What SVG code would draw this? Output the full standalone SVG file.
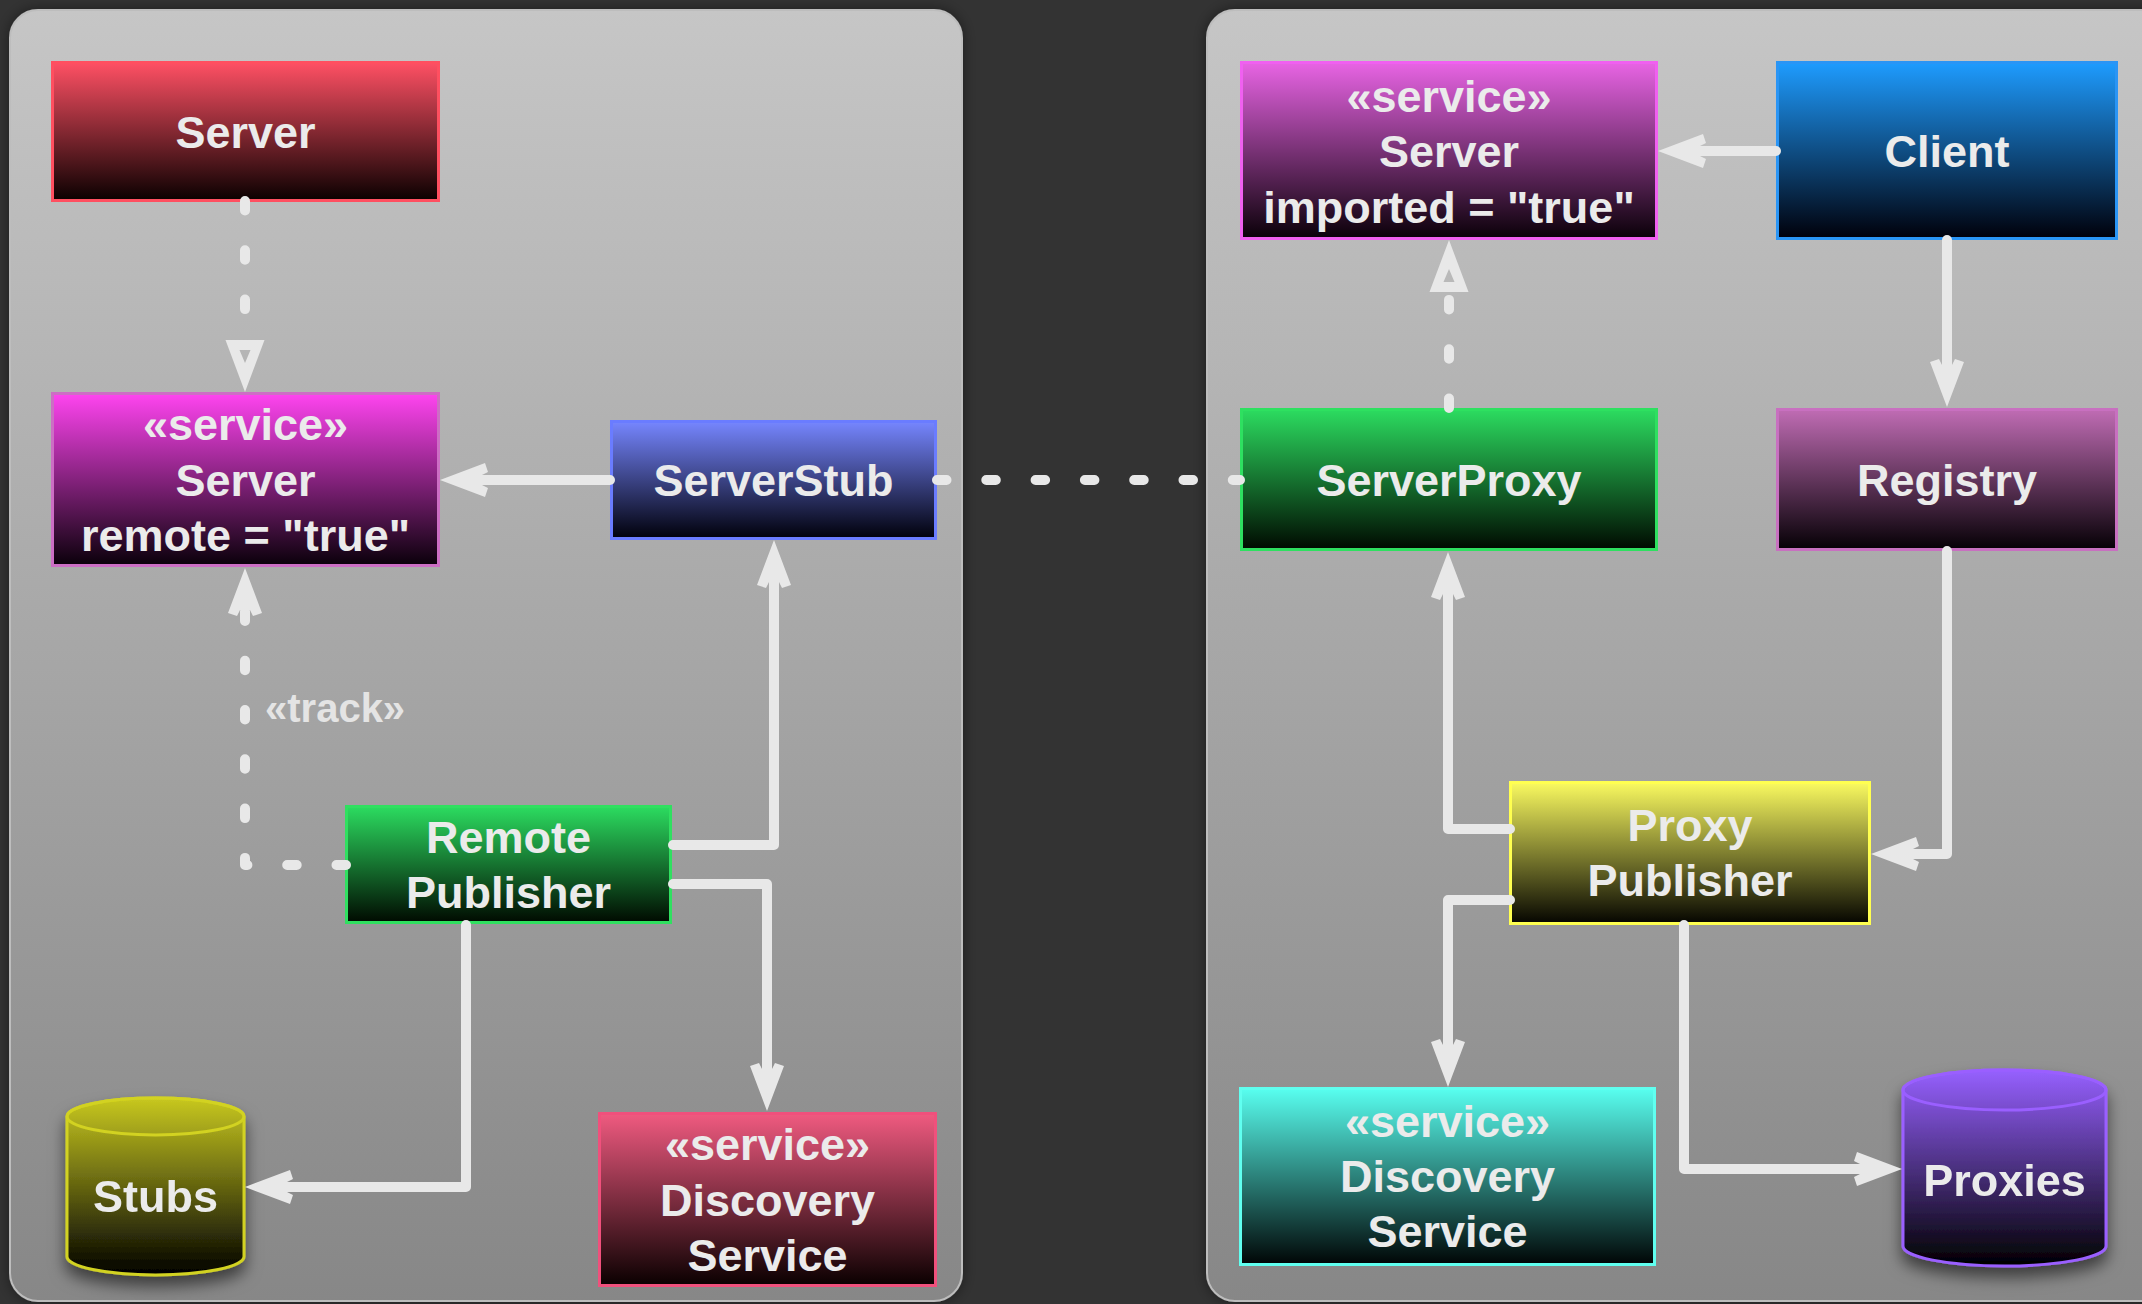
<svg xmlns="http://www.w3.org/2000/svg" width="2142" height="1304" viewBox="0 0 2142 1304">
  <defs>
    <style>
      .panel { stroke: #bdbdbd; stroke-width: 2; fill: url(#gPanel); filter: url(#panelShadow); }
      .box { stroke-width: 3; }
      .lbl { font-family: "Liberation Sans", Arial, Helvetica, sans-serif; font-weight: bold; font-size: 45px; fill: #ebebeb; text-anchor: middle; }
      .note { font-family: "Liberation Sans", Arial, Helvetica, sans-serif; font-weight: bold; font-size: 40px; fill: #e4e4e4; }
      .wire { fill: none; stroke: #e8e8e8; stroke-width: 10; stroke-linecap: round; stroke-linejoin: round; }
      .dash { stroke-dasharray: 9.5 39.8; }
      .arrow { marker-end: url(#arrowHead); }
      .realize { marker-end: url(#hollowTri); }
      .cyl { filter: url(#cylShadow); }
    </style>

    <!-- panel background -->
    <linearGradient id="gPanel" x1="0" y1="0" x2="0" y2="1">
      <stop offset="0" stop-color="#c6c6c6"/>
      <stop offset="1" stop-color="#878787"/>
    </linearGradient>

    <!-- node fills: colour at the top fading to black -->
    <linearGradient id="gRed" x1="0" y1="0" x2="0" y2="1"><stop offset="0" stop-color="#ff5064"/><stop offset="1" stop-color="#0a0000"/></linearGradient>
    <linearGradient id="gMagenta" x1="0" y1="0" x2="0" y2="1"><stop offset="0" stop-color="#ff44f0"/><stop offset="1" stop-color="#0a000a"/></linearGradient>
    <linearGradient id="gBlue" x1="0" y1="0" x2="0" y2="1"><stop offset="0" stop-color="#7686ff"/><stop offset="1" stop-color="#00000a"/></linearGradient>
    <linearGradient id="gGreen" x1="0" y1="0" x2="0" y2="1"><stop offset="0" stop-color="#2cdc60"/><stop offset="1" stop-color="#000a00"/></linearGradient>
    <linearGradient id="gPink" x1="0" y1="0" x2="0" y2="1"><stop offset="0" stop-color="#f05a80"/><stop offset="1" stop-color="#0a0000"/></linearGradient>
    <linearGradient id="gOlive" x1="0" y1="0" x2="0" y2="1"><stop offset="0" stop-color="#c8c820"/><stop offset="1" stop-color="#000000"/></linearGradient>
    <linearGradient id="gOrchid" x1="0" y1="0" x2="0" y2="1"><stop offset="0" stop-color="#e864e4"/><stop offset="1" stop-color="#0a0008"/></linearGradient>
    <linearGradient id="gSky" x1="0" y1="0" x2="0" y2="1"><stop offset="0" stop-color="#1e9cff"/><stop offset="1" stop-color="#00000a"/></linearGradient>
    <linearGradient id="gPlum" x1="0" y1="0" x2="0" y2="1"><stop offset="0" stop-color="#c06cb4"/><stop offset="1" stop-color="#050005"/></linearGradient>
    <linearGradient id="gYellow" x1="0" y1="0" x2="0" y2="1"><stop offset="0" stop-color="#fafa60"/><stop offset="1" stop-color="#050500"/></linearGradient>
    <linearGradient id="gCyan" x1="0" y1="0" x2="0" y2="1"><stop offset="0" stop-color="#58fff0"/><stop offset="1" stop-color="#000505"/></linearGradient>
    <linearGradient id="gViolet" x1="0" y1="0" x2="0" y2="1"><stop offset="0" stop-color="#9660ff"/><stop offset="1" stop-color="#000000"/></linearGradient>

    <filter id="panelShadow" x="-5%" y="-5%" width="110%" height="110%">
      <feDropShadow dx="0" dy="0" stdDeviation="7" flood-color="#000" flood-opacity="0.45"/>
    </filter>
    <filter id="cylShadow" x="-30%" y="-20%" width="160%" height="150%">
      <feDropShadow dx="0" dy="10" stdDeviation="8" flood-color="#000" flood-opacity="0.55"/>
    </filter>

    <!-- filled barbed arrowhead; the line stops 40 before the tip -->
    <marker id="arrowHead" markerUnits="userSpaceOnUse" orient="auto" refX="0" refY="0" markerWidth="60" markerHeight="40" overflow="visible">
      <path d="M40,0 L-5,-17 L-8,-8 L-2,-5 L-2,5 L-8,8 L-5,17 Z" fill="#e8e8e8"/>
    </marker>
    <!-- hollow triangle for realization; the line stops at its base -->
    <marker id="hollowTri" markerUnits="userSpaceOnUse" orient="auto" refX="0" refY="0" markerWidth="60" markerHeight="40" overflow="visible">
      <path d="M0,-19.5 L52,0 L0,19.5 Z M10,-5.5 L23,0 L10,5.5 Z" fill="#e8e8e8" fill-rule="evenodd"/>
    </marker>
  </defs>

  <rect width="2142" height="1304" fill="#333333"/>

  <g id="panels">
    <rect id="server-side" class="panel" x="10" y="10" width="952" height="1291" rx="28"/>
    <rect id="client-side" class="panel" x="1207" y="10" width="980" height="1291" rx="28"/>
  </g>

  <g id="nodes">
    <g id="server">
      <rect class="box" x="52.5" y="62.5" width="386" height="138" fill="url(#gRed)" stroke="#ff4f60"/>
      <text class="lbl" x="245.5" y="147.5">Server</text>
    </g>
    <g id="server-remote">
      <rect class="box" x="52.5" y="393.5" width="386" height="172" fill="url(#gMagenta)" stroke="#cc6ec4"/>
      <text class="lbl" x="245.5" y="440">«service»</text>
      <text class="lbl" x="245.5" y="495.5">Server</text>
      <text class="lbl" x="245.5" y="551">remote = "true"</text>
    </g>
    <g id="server-stub">
      <rect class="box" x="611.5" y="421.5" width="324" height="117" fill="url(#gBlue)" stroke="#6a7cff"/>
      <text class="lbl" x="773.5" y="496">ServerStub</text>
    </g>
    <g id="remote-publisher">
      <rect class="box" x="346.5" y="806.5" width="324" height="116" fill="url(#gGreen)" stroke="#30e060"/>
      <text class="lbl" x="508.5" y="853">Remote</text>
      <text class="lbl" x="508.5" y="908">Publisher</text>
    </g>
    <g id="discovery-left">
      <rect class="box" x="599.5" y="1113.5" width="336" height="172" fill="url(#gPink)" stroke="#f0507c"/>
      <text class="lbl" x="767.5" y="1160">«service»</text>
      <text class="lbl" x="767.5" y="1215.5">Discovery</text>
      <text class="lbl" x="767.5" y="1271">Service</text>
    </g>
    <g id="stubs" class="cyl">
      <path d="M67,1116.5 L67,1256.5 A88.5,18.5 0 0 0 244,1256.5 L244,1116.5 A88.5,18.5 0 0 0 67,1116.5 Z" fill="url(#gOlive)" stroke="#d2d220" stroke-width="3"/>
      <ellipse cx="155.5" cy="1116.5" rx="88.5" ry="18.5" fill="none" stroke="#d2d220" stroke-width="3"/>
      <text class="lbl" x="155.5" y="1212">Stubs</text>
    </g>

    <g id="server-imported">
      <rect class="box" x="1241.5" y="62.5" width="415" height="176" fill="url(#gOrchid)" stroke="#f060f0"/>
      <text class="lbl" x="1449" y="111.5">«service»</text>
      <text class="lbl" x="1449" y="167">Server</text>
      <text class="lbl" x="1449" y="222.5">imported = "true"</text>
    </g>
    <g id="client">
      <rect class="box" x="1777.5" y="62.5" width="339" height="176" fill="url(#gSky)" stroke="#2a95f5"/>
      <text class="lbl" x="1947" y="167">Client</text>
    </g>
    <g id="server-proxy">
      <rect class="box" x="1241.5" y="409.5" width="415" height="140" fill="url(#gGreen)" stroke="#2ee060"/>
      <text class="lbl" x="1449" y="496">ServerProxy</text>
    </g>
    <g id="registry">
      <rect class="box" x="1777.5" y="409.5" width="339" height="140" fill="url(#gPlum)" stroke="#c870c0"/>
      <text class="lbl" x="1947" y="496">Registry</text>
    </g>
    <g id="proxy-publisher">
      <rect class="box" x="1510.5" y="782.5" width="359" height="141" fill="url(#gYellow)" stroke="#ffff50"/>
      <text class="lbl" x="1690" y="841">Proxy</text>
      <text class="lbl" x="1690" y="896">Publisher</text>
    </g>
    <g id="discovery-right">
      <rect class="box" x="1240.5" y="1088.5" width="414" height="176" fill="url(#gCyan)" stroke="#60fff0"/>
      <text class="lbl" x="1447.5" y="1137">«service»</text>
      <text class="lbl" x="1447.5" y="1192">Discovery</text>
      <text class="lbl" x="1447.5" y="1247">Service</text>
    </g>
    <g id="proxies" class="cyl">
      <path d="M1903,1090 L1903,1246 A101.5,20 0 0 0 2106,1246 L2106,1090 A101.5,20 0 0 0 1903,1090 Z" fill="url(#gViolet)" stroke="#9a5fff" stroke-width="3"/>
      <ellipse cx="2004.5" cy="1090" rx="101.5" ry="20" fill="none" stroke="#9a5fff" stroke-width="3"/>
      <text class="lbl" x="2004.5" y="1196">Proxies</text>
    </g>
  </g>

  <g id="connectors">
    <!-- server side -->
    <path class="wire dash realize" d="M245,201 L245,340"/>
    <path class="wire arrow" d="M610,480 L480,480"/>
    <path class="wire dash" d="M937,480 L1240,480"/>
    <path class="wire dash arrow" d="M346,865 L245,865 L245,608"/>
    <text class="note" x="265" y="722">«track»</text>
    <path class="wire arrow" d="M673,845 L774,845 L774,580"/>
    <path class="wire arrow" d="M673,884 L767,884 L767,1071"/>
    <path class="wire arrow" d="M466,925 L466,1187 L285,1187"/>

    <!-- client side -->
    <path class="wire arrow" d="M1776,151 L1698,151"/>
    <path class="wire arrow" d="M1947,240 L1947,367"/>
    <path class="wire dash realize" d="M1449,408 L1449,292"/>
    <path class="wire arrow" d="M1510,829 L1448,829 L1448,592"/>
    <path class="wire arrow" d="M1947,551 L1947,854 L1911,854"/>
    <path class="wire arrow" d="M1510,900 L1448,900 L1448,1047"/>
    <path class="wire arrow" d="M1684,925 L1684,1169 L1862,1169"/>
  </g>
</svg>
